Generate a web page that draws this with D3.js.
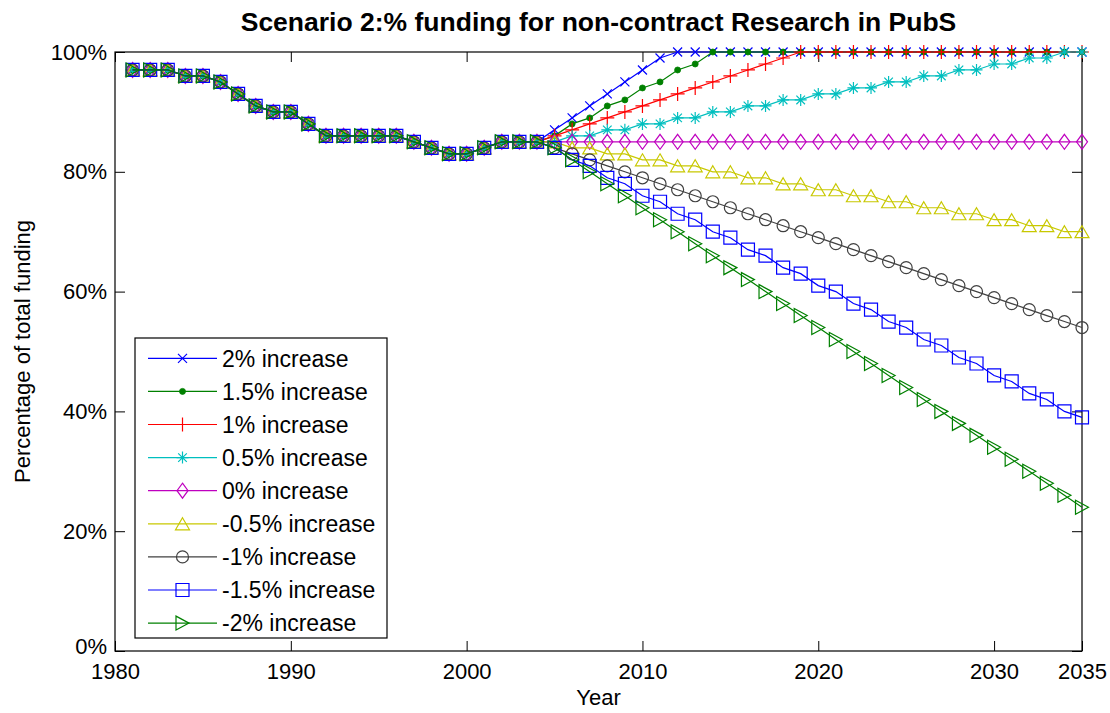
<!DOCTYPE html>
<html>
<head>
<meta charset="utf-8">
<script src="https://cdn.jsdelivr.net/npm/d3@7"></script>
<style>
  body { margin: 0; background: #fff; }
  svg { display: block; font-family: "Liberation Sans", Arial, sans-serif; }
</style>
</head>
<body>
<div id="chart"></div>
<script>
// Scenario 2 chart: share of total funding, history 1981-2004 and projections 2005-2035.
const TITLE = 'Scenario 2:% funding for non-contract Research in PubS';
const X_LABEL = 'Year';
const Y_LABEL = 'Percentage of total funding';

const YEARS = [1981, 1982, 1983, 1984, 1985, 1986, 1987, 1988, 1989, 1990,
  1991, 1992, 1993, 1994, 1995, 1996, 1997, 1998, 1999, 2000,
  2001, 2002, 2003, 2004, 2005, 2006, 2007, 2008, 2009, 2010,
  2011, 2012, 2013, 2014, 2015, 2016, 2017, 2018, 2019, 2020,
  2021, 2022, 2023, 2024, 2025, 2026, 2027, 2028, 2029, 2030,
  2031, 2032, 2033, 2034, 2035];

const X_TICKS = [1980, 1990, 2000, 2010, 2020, 2030, 2035];
const Y_TICKS = [0, 20, 40, 60, 80, 100];

// observed values, 1981-2004 (same for every scenario)
const HISTORY = [97, 97, 97, 96, 96, 95, 93, 91, 90, 90, 88, 86, 86, 86, 86, 86,
  85, 84, 83, 83, 84, 85, 85, 85];

// projections, 2005-2035
const PROJ_UP_2 = [87, 89, 91, 93, 95, 97, 99, 100, 100, 100, 100, 100, 100, 100, 100, 100,
  100, 100, 100, 100, 100, 100, 100, 100, 100, 100, 100, 100, 100, 100, 100];
const PROJ_UP_15 = [86, 88, 89, 91, 92, 94, 95, 97, 98, 100, 100, 100, 100, 100, 100, 100,
  100, 100, 100, 100, 100, 100, 100, 100, 100, 100, 100, 100, 100, 100, 100];
const PROJ_UP_1 = [86, 87, 88, 89, 90, 91, 92, 93, 94, 95, 96, 97, 98, 99, 100, 100,
  100, 100, 100, 100, 100, 100, 100, 100, 100, 100, 100, 100, 100, 100, 100];
const PROJ_UP_05 = [85, 86, 86, 87, 87, 88, 88, 89, 89, 90, 90, 91, 91, 92, 92, 93,
  93, 94, 94, 95, 95, 96, 96, 97, 97, 98, 98, 99, 99, 100, 100];
const PROJ_FLAT = [85, 85, 85, 85, 85, 85, 85, 85, 85, 85, 85, 85, 85, 85, 85, 85,
  85, 85, 85, 85, 85, 85, 85, 85, 85, 85, 85, 85, 85, 85, 85];
const PROJ_DOWN_05 = [85, 84, 84, 83, 83, 82, 82, 81, 81, 80, 80, 79, 79, 78, 78, 77,
  77, 76, 76, 75, 75, 74, 74, 73, 73, 72, 72, 71, 71, 70, 70];
const PROJ_DOWN_1 = [84, 83, 82, 81, 80, 79, 78, 77, 76, 75, 74, 73, 72, 71, 70, 69,
  68, 67, 66, 65, 64, 63, 62, 61, 60, 59, 58, 57, 56, 55, 54];
const PROJ_DOWN_15 = [84, 82, 81, 79, 78, 76, 75, 73, 72, 70, 69, 67, 66, 64, 63, 61,
  60, 58, 57, 55, 54, 52, 51, 49, 48, 46, 45, 43, 42, 40, 39];
const PROJ_DOWN_2 = [84, 82, 80, 78, 76, 74, 72, 70, 68, 66, 64, 62, 60, 58, 56, 54,
  52, 50, 48, 46, 44, 42, 40, 38, 36, 34, 32, 30, 28, 26, 24];

const SERIES_NAMES = ['2% increase', '1.5% increase', '1% increase', '0.5% increase',
  '0% increase', '-0.5% increase', '-1% increase', '-1.5% increase', '-2% increase'];
const SERIES_PROJ = [PROJ_UP_2, PROJ_UP_15, PROJ_UP_1, PROJ_UP_05, PROJ_FLAT,
  PROJ_DOWN_05, PROJ_DOWN_1, PROJ_DOWN_15, PROJ_DOWN_2];

// matlab-ish colour order and marker cycle
const COLORS = ['#0000ff', '#008000', '#ff0000', '#00bfbf', '#bf00bf',
  '#c8c800', '#404040', '#0000ff', '#008000'];
const MARKERS = ['x', 'dot', 'plus', 'star', 'diamond', 'triUp', 'circle', 'square', 'triRight'];

const W = 1110, H = 713;
const MARGIN = { top: 52, right: 28, bottom: 62, left: 115 };
const TICK = 10;

function markerPath(type) {
  switch (type) {
    case 'x': return 'M-4.5,-4.5L4.5,4.5M-4.5,4.5L4.5,-4.5';
    case 'plus': return 'M-7,0L7,0M0,-7L0,7';
    case 'star': return 'M-6,0L6,0M0,-6L0,6M-4.3,-4.3L4.3,4.3M-4.3,4.3L4.3,-4.3';
    case 'diamond': return 'M0,-7.5L5.5,0L0,7.5L-5.5,0Z';
    case 'triUp': return 'M0,-6L7,6L-7,6Z';
    case 'square': return 'M-6.5,-6.5L6.5,-6.5L6.5,6.5L-6.5,6.5Z';
    case 'triRight': return 'M6.5,0L-6.5,-7L-6.5,7Z';
    default: return null;
  }
}

function drawMarker(sel, type, color) {
  if (type === 'dot') {
    sel.append('circle').attr('r', 3).attr('fill', color).attr('stroke', color).attr('stroke-width', 0.8);
  } else if (type === 'circle') {
    sel.append('circle').attr('r', 6).attr('fill', 'none').attr('stroke', color).attr('stroke-width', 1.2);
  } else {
    sel.append('path').attr('d', markerPath(type)).attr('fill', 'none')
      .attr('stroke', color).attr('stroke-width', 1.2);
  }
}

const svg = d3.select('#chart').append('svg')
  .attr('width', W)
  .attr('height', H);

const x = d3.scaleLinear().domain([1980, 2035]).range([MARGIN.left, W - MARGIN.right]);
const y = d3.scaleLinear().domain([0, 100]).range([H - MARGIN.bottom, MARGIN.top]);

// axes, ticks pointing inward like matlab
function styleAxis(g, size) {
  g.select('.domain').remove();
  g.selectAll('line').attr('stroke', '#000');
  g.selectAll('text').attr('fill', '#000').style('font-size', size + 'px')
    .style('font-family', '"Liberation Sans", Arial, sans-serif');
}

svg.append('g')
  .attr('transform', `translate(0,${H - MARGIN.bottom})`)
  .call(d3.axisBottom(x).tickValues(X_TICKS).tickSize(-TICK).tickSizeOuter(0)
    .tickPadding(12).tickFormat(d3.format('d')))
  .call(g => styleAxis(g, 22));

svg.append('g')
  .attr('transform', `translate(0,${MARGIN.top})`)
  .call(d3.axisTop(x).tickValues(X_TICKS).tickSize(-TICK).tickSizeOuter(0).tickFormat(''))
  .call(g => styleAxis(g, 22));

svg.append('g')
  .attr('transform', `translate(${MARGIN.left},0)`)
  .call(d3.axisLeft(y).tickValues(Y_TICKS).tickSize(-TICK).tickSizeOuter(0)
    .tickPadding(8).tickFormat(d => d + '%'))
  .call(g => styleAxis(g, 22));

svg.append('g')
  .attr('transform', `translate(${W - MARGIN.right},0)`)
  .call(d3.axisRight(y).tickValues(Y_TICKS).tickSize(-TICK).tickSizeOuter(0).tickFormat(''))
  .call(g => styleAxis(g, 22));

// the 0% label sits a little higher so it clears the 1980 label
svg.selectAll('text').filter(function () { return this.textContent === '0%'; })
  .attr('dy', '0.1em');

svg.append('rect')
  .attr('x', MARGIN.left)
  .attr('y', MARGIN.top)
  .attr('width', W - MARGIN.left - MARGIN.right)
  .attr('height', H - MARGIN.top - MARGIN.bottom)
  .attr('fill', 'none')
  .attr('stroke', '#000')
  .attr('stroke-width', 1.2);

// series
const line = d3.line().x(d => x(d.year)).y(d => y(d.value));

SERIES_NAMES.forEach((name, i) => {
  const values = HISTORY.concat(SERIES_PROJ[i]);
  const pts = YEARS.map((yr, k) => ({ year: yr, value: values[k] }));
  const g = svg.append('g');
  g.append('path')
    .datum(pts)
    .attr('d', line)
    .attr('fill', 'none')
    .attr('stroke', COLORS[i])
    .attr('stroke-width', 1.2);
  g.selectAll('g.mk')
    .data(pts)
    .join('g')
    .attr('class', 'mk')
    .attr('transform', d => `translate(${x(d.year)},${y(d.value)})`)
    .each(function () { drawMarker(d3.select(this), MARKERS[i], COLORS[i]); });
});

// legend
const LEG = { x: 135, y: 338, w: 252, h: 300, row: 33.1, first: 20.3 };
const legend = svg.append('g').attr('transform', `translate(${LEG.x},${LEG.y})`);
legend.append('rect')
  .attr('width', LEG.w)
  .attr('height', LEG.h)
  .attr('fill', '#fff')
  .attr('stroke', '#000')
  .attr('stroke-width', 1.2);

SERIES_NAMES.forEach((name, i) => {
  const row = legend.append('g').attr('transform', `translate(0,${LEG.first + i * LEG.row})`);
  row.append('line')
    .attr('x1', 13).attr('x2', 82)
    .attr('stroke', COLORS[i]).attr('stroke-width', 1.2);
  const mk = row.append('g').attr('transform', 'translate(47.5,0)');
  drawMarker(mk, MARKERS[i], COLORS[i]);
  row.append('text')
    .attr('x', 87)
    .attr('dy', '0.36em')
    .style('font-size', '23px')
    .attr('fill', '#000')
    .text(name);
});

// titles
svg.append('text')
  .attr('x', (MARGIN.left + W - MARGIN.right) / 2)
  .attr('y', 31)
  .attr('text-anchor', 'middle')
  .style('font-size', '26.5px')
  .style('font-weight', 'bold')
  .text(TITLE);

svg.append('text')
  .attr('x', (MARGIN.left + W - MARGIN.right) / 2)
  .attr('y', 705)
  .attr('text-anchor', 'middle')
  .style('font-size', '22px')
  .text(X_LABEL);

svg.append('text')
  .attr('transform', `translate(30,${(MARGIN.top + H - MARGIN.bottom) / 2}) rotate(-90)`)
  .attr('text-anchor', 'middle')
  .style('font-size', '22px')
  .text(Y_LABEL);
</script>
</body>
</html>
